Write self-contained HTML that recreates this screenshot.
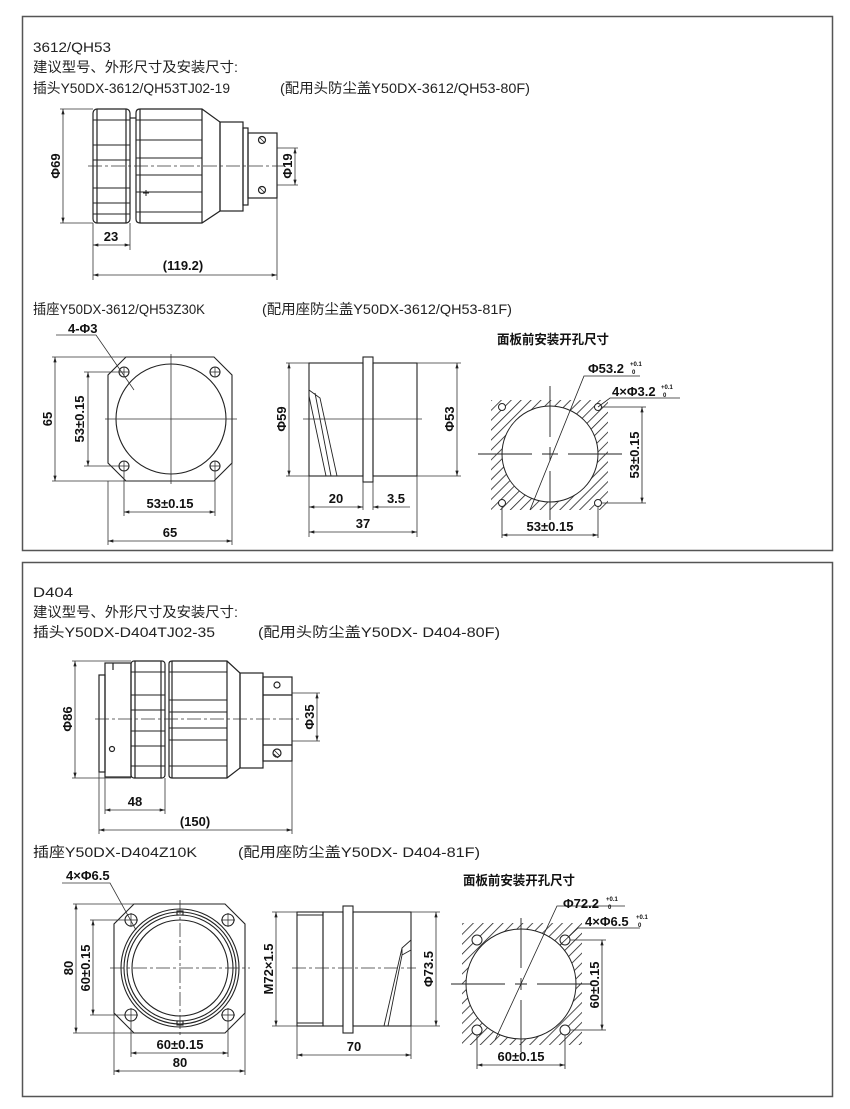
<!DOCTYPE html>
<html><head><meta charset="utf-8"><style>
html,body{margin:0;padding:0;background:#fff}
svg{display:block}
.t{font-family:"Liberation Sans","Noto Sans CJK SC",sans-serif;font-size:14px;fill:#222}
.d{font-family:"Liberation Sans","Noto Sans CJK SC",sans-serif;font-size:13px;font-weight:bold;fill:#111}
.s{font-family:"Liberation Sans",sans-serif;font-size:6px;font-weight:bold;fill:#111}
</style></head><body>
<svg width="850" height="1109" viewBox="0 0 850 1109" xmlns="http://www.w3.org/2000/svg">
<defs>
<marker id="a" viewBox="0 0 10 6" refX="10" refY="3" markerWidth="7" markerHeight="4" orient="auto-start-reverse"><path d="M0,0L10,3L0,6z" fill="#222"/></marker>
<pattern id="h" width="7" height="7" patternUnits="userSpaceOnUse" patternTransform="rotate(45)"><line x1="0" y1="0" x2="0" y2="7" stroke="#222" stroke-width="1.6"/></pattern>
</defs>
<g fill="none" stroke="#333">
<rect x="22.5" y="16.5" width="810" height="534" stroke="#555" stroke-width="1.5"/>
<rect x="22.5" y="562.5" width="810" height="534" stroke="#555" stroke-width="1.5"/>
</g>
<text class="t" x="33" y="52" textLength="78" lengthAdjust="spacingAndGlyphs">3612/QH53</text>
<text class="t" x="33" y="72" textLength="205" lengthAdjust="spacingAndGlyphs">建议型号、外形尺寸及安装尺寸:</text>
<text class="t" x="33" y="93" textLength="197" lengthAdjust="spacingAndGlyphs">插头Y50DX-3612/QH53TJ02-19</text>
<text class="t" x="280" y="93" textLength="250" lengthAdjust="spacingAndGlyphs">(配用头防尘盖Y50DX-3612/QH53-80F)</text>
<text class="t" x="33" y="314" textLength="172" lengthAdjust="spacingAndGlyphs">插座Y50DX-3612/QH53Z30K</text>
<text class="t" x="262" y="314" textLength="250" lengthAdjust="spacingAndGlyphs">(配用座防尘盖Y50DX-3612/QH53-81F)</text>
<text class="t" x="33" y="597" textLength="40" lengthAdjust="spacingAndGlyphs">D404</text>
<text class="t" x="33" y="617" textLength="205" lengthAdjust="spacingAndGlyphs">建议型号、外形尺寸及安装尺寸:</text>
<text class="t" x="33" y="637" textLength="182" lengthAdjust="spacingAndGlyphs">插头Y50DX-D404TJ02-35</text>
<text class="t" x="258" y="637" textLength="242" lengthAdjust="spacingAndGlyphs">(配用头防尘盖Y50DX- D404-80F)</text>
<text class="t" x="33" y="857" textLength="164" lengthAdjust="spacingAndGlyphs">插座Y50DX-D404Z10K</text>
<text class="t" x="238" y="857" textLength="242" lengthAdjust="spacingAndGlyphs">(配用座防尘盖Y50DX- D404-81F)</text>

<!-- ===== Plug 1 ===== -->
<g fill="none" stroke="#222" stroke-width="1.2">
<rect x="93" y="109" width="37" height="114" rx="4"/>
<line x1="97" y1="109" x2="97" y2="223"/><line x1="126" y1="109" x2="126" y2="223"/>
<path d="M93,120H130M93,145H130M93,160H130M93,188H130M93,203H130M93,214H130" stroke-width="0.9"/>
<path d="M136,113Q136,109 140,109H202L220,122V211L202,223H140Q136,223 136,219Z"/>
<line x1="140" y1="109" x2="140" y2="223"/><line x1="202" y1="109" x2="202" y2="223"/>
<path d="M136,120H202M136,140H202M136,158H202M136,175H202M136,192H202M136,212H202" stroke-width="0.9"/>
<line x1="130" y1="118" x2="136" y2="118"/>
<rect x="220" y="122" width="23" height="89"/>
<rect x="243" y="128" width="5" height="77"/>
<rect x="248" y="133" width="29" height="65"/>
<circle cx="262" cy="140" r="3.5"/><circle cx="262" cy="190" r="3.5"/>
<path d="M259,137l6,6M259,187l6,6" stroke-width="0.8"/>
<path d="M143,193h6M146,190v6" stroke-width="1"/>
</g>
<g stroke="#333" stroke-width="0.8" fill="none">
<line x1="88" y1="166" x2="285" y2="166" stroke-dasharray="14,3,3,3"/>
<line x1="60" y1="109" x2="93" y2="109"/><line x1="60" y1="223" x2="93" y2="223"/>
<line x1="63" y1="109" x2="63" y2="223" marker-start="url(#a)" marker-end="url(#a)"/>
<line x1="277" y1="148" x2="298" y2="148"/><line x1="277" y1="185" x2="298" y2="185"/>
<line x1="295" y1="148" x2="295" y2="185" marker-start="url(#a)" marker-end="url(#a)"/>
<line x1="93" y1="223" x2="93" y2="280"/><line x1="130" y1="223" x2="130" y2="250"/><line x1="277" y1="198" x2="277" y2="280"/>
<line x1="93" y1="245" x2="130" y2="245" marker-start="url(#a)" marker-end="url(#a)"/>
<line x1="93" y1="275" x2="277" y2="275" marker-start="url(#a)" marker-end="url(#a)"/>
</g>
<text class="d" transform="translate(60,166) rotate(-90)" text-anchor="middle">Φ69</text>
<text class="d" transform="translate(292,166) rotate(-90)" text-anchor="middle">Φ19</text>
<text class="d" x="111" y="241" text-anchor="middle">23</text>
<text class="d" x="183" y="270" text-anchor="middle">(119.2)</text>

<!-- ===== Socket 1 front ===== -->
<g fill="none" stroke="#222" stroke-width="1.1">
<path d="M126,357H214L232,375V463L214,481H126L108,463V375Z"/>
<circle cx="171" cy="419" r="55"/>
<circle cx="124" cy="372" r="5"/><circle cx="215" cy="372" r="5"/><circle cx="124" cy="466" r="5"/><circle cx="215" cy="466" r="5"/>
<path d="M119,372h10M124,367v10M210,372h10M215,367v10M119,466h10M124,461v10M210,466h10M215,461v10" stroke-width="0.7"/>
</g>
<g stroke="#333" stroke-width="0.8" fill="none">
<line x1="105" y1="419" x2="237" y2="419"/><line x1="171" y1="354" x2="171" y2="484"/>
<line x1="52" y1="357" x2="126" y2="357"/><line x1="52" y1="481" x2="126" y2="481"/>
<line x1="55" y1="357" x2="55" y2="481" marker-start="url(#a)" marker-end="url(#a)"/>
<line x1="84" y1="372" x2="120" y2="372"/><line x1="84" y1="466" x2="120" y2="466"/>
<line x1="88" y1="372" x2="88" y2="466" marker-start="url(#a)" marker-end="url(#a)"/>
<line x1="124" y1="470" x2="124" y2="516"/><line x1="215" y1="470" x2="215" y2="516"/>
<line x1="124" y1="512" x2="215" y2="512" marker-start="url(#a)" marker-end="url(#a)"/>
<line x1="108" y1="481" x2="108" y2="545"/><line x1="232" y1="463" x2="232" y2="545"/>
<line x1="108" y1="541" x2="232" y2="541" marker-start="url(#a)" marker-end="url(#a)"/>
<polyline points="56,335 96,335 134,390"/>
</g>
<text class="d" x="68" y="333">4-Φ3</text>
<text class="d" transform="translate(52,419) rotate(-90)" text-anchor="middle">65</text>
<text class="d" transform="translate(84,419) rotate(-90)" text-anchor="middle">53±0.15</text>
<text class="d" x="170" y="508" text-anchor="middle">53±0.15</text>
<text class="d" x="170" y="537" text-anchor="middle">65</text>

<!-- ===== Socket 1 side ===== -->
<g fill="none" stroke="#222" stroke-width="1.1">
<rect x="309" y="363" width="54" height="113"/>
<rect x="363" y="357" width="10" height="125"/>
<rect x="373" y="363" width="44" height="113"/>
<path d="M309,390L320,398L337,476M309,396L326,476M315,393L331,476" stroke-width="0.9"/>
</g>
<g stroke="#333" stroke-width="0.8" fill="none">
<line x1="303" y1="419" x2="422" y2="419"/>
<line x1="286" y1="363" x2="309" y2="363"/><line x1="286" y1="476" x2="309" y2="476"/>
<line x1="289" y1="363" x2="289" y2="476" marker-start="url(#a)" marker-end="url(#a)"/>
<line x1="417" y1="363" x2="461" y2="363"/><line x1="417" y1="476" x2="461" y2="476"/>
<line x1="457" y1="363" x2="457" y2="476" marker-start="url(#a)" marker-end="url(#a)"/>
<line x1="309" y1="476" x2="309" y2="537"/><line x1="363" y1="482" x2="363" y2="510"/><line x1="373" y1="482" x2="373" y2="510"/><line x1="417" y1="476" x2="417" y2="537"/>
<line x1="309" y1="507" x2="363" y2="507" marker-start="url(#a)" marker-end="url(#a)"/>
<line x1="388" y1="507" x2="373" y2="507" marker-end="url(#a)"/><line x1="388" y1="507" x2="410" y2="507"/>
<line x1="309" y1="532" x2="417" y2="532" marker-start="url(#a)" marker-end="url(#a)"/>
</g>
<text class="d" transform="translate(286,419) rotate(-90)" text-anchor="middle">Φ59</text>
<text class="d" transform="translate(454,419) rotate(-90)" text-anchor="middle">Φ53</text>
<text class="d" x="336" y="503" text-anchor="middle">20</text>
<text class="d" x="396" y="503" text-anchor="middle">3.5</text>
<text class="d" x="363" y="528" text-anchor="middle">37</text>

<!-- ===== Cutout 1 ===== -->
<text class="d" x="497" y="344" textLength="112" lengthAdjust="spacingAndGlyphs">面板前安装开孔尺寸</text>
<path d="M491,400H608V510H491Z M598,454A48,48 0 1,0 502,454A48,48 0 1,0 598,454Z" fill="url(#h)" fill-rule="evenodd"/>
<g fill="none" stroke="#222" stroke-width="1">
<circle cx="550" cy="454" r="48"/>
<circle cx="502" cy="407" r="3.5" fill="#fff"/><circle cx="598" cy="407" r="3.5" fill="#fff"/><circle cx="502" cy="503" r="3.5" fill="#fff"/><circle cx="598" cy="503" r="3.5" fill="#fff"/>
<path d="M478,454H532M542,454H558M568,454H622M550,386V437M550,447V461M550,471V520" stroke-width="0.9"/>
<polyline points="530,510 584,376 640,376" stroke-width="0.8"/>
<polyline points="598,407 610,398 680,398" stroke-width="0.8"/>
<line x1="602" y1="407" x2="646" y2="407" stroke-width="0.8"/><line x1="602" y1="503" x2="646" y2="503" stroke-width="0.8"/>
<line x1="642" y1="407" x2="642" y2="503" stroke-width="0.8" marker-start="url(#a)" marker-end="url(#a)"/>
<line x1="502" y1="507" x2="502" y2="538" stroke-width="0.8"/><line x1="598" y1="507" x2="598" y2="538" stroke-width="0.8"/>
<line x1="502" y1="535" x2="598" y2="535" stroke-width="0.8" marker-start="url(#a)" marker-end="url(#a)"/>
</g>
<text class="d" x="588" y="373">Φ53.2</text><text class="s" x="630" y="366">+0.1</text><text class="s" x="632" y="374">0</text>
<text class="d" x="612" y="396">4×Φ3.2</text><text class="s" x="661" y="389">+0.1</text><text class="s" x="663" y="397">0</text>
<text class="d" transform="translate(639,455) rotate(-90)" text-anchor="middle">53±0.15</text>
<text class="d" x="550" y="531" text-anchor="middle">53±0.15</text>

<!-- ===== Plug 2 ===== -->
<g fill="none" stroke="#222" stroke-width="1.2">
<rect x="99" y="675" width="6" height="97"/>
<rect x="105" y="663" width="26" height="114"/>
<line x1="113" y1="663" x2="113" y2="670"/>
<circle cx="112" cy="749" r="2.5"/>
<rect x="131" y="661" width="34" height="117" rx="3"/>
<line x1="135" y1="661" x2="135" y2="778"/><line x1="161" y1="661" x2="161" y2="778"/>
<path d="M131,672H165M131,695H165M131,710H165M131,731H165M131,746H165M131,766H165" stroke-width="0.9"/>
<path d="M169,664Q169,661 172,661H227L240,673V768L227,778H172Q169,778 169,775Z"/>
<line x1="172" y1="661" x2="172" y2="778"/><line x1="227" y1="661" x2="227" y2="778"/>
<path d="M169,672H227M169,700H227M169,712H227M169,728H227M169,740H227M169,766H227" stroke-width="0.9"/>
<rect x="240" y="673" width="23" height="95"/>
<rect x="263" y="677" width="29" height="84"/>
<line x1="263" y1="695" x2="292" y2="695"/><line x1="263" y1="745" x2="292" y2="745"/>
<circle cx="277" cy="685" r="3"/><circle cx="277" cy="753" r="4"/>
<path d="M274,750l6,6M274,754l4,4" stroke-width="0.8"/>
</g>
<g stroke="#333" stroke-width="0.8" fill="none">
<line x1="95" y1="719" x2="300" y2="719" stroke-dasharray="14,3,3,3"/>
<line x1="72" y1="661" x2="131" y2="661"/><line x1="72" y1="778" x2="131" y2="778"/>
<line x1="75" y1="661" x2="75" y2="778" marker-start="url(#a)" marker-end="url(#a)"/>
<line x1="292" y1="693" x2="320" y2="693"/><line x1="292" y1="741" x2="320" y2="741"/>
<line x1="317" y1="693" x2="317" y2="741" marker-start="url(#a)" marker-end="url(#a)"/>
<line x1="99" y1="772" x2="99" y2="834"/><line x1="105" y1="777" x2="105" y2="814"/><line x1="165" y1="778" x2="165" y2="814"/><line x1="292" y1="761" x2="292" y2="834"/>
<line x1="105" y1="810" x2="165" y2="810" marker-start="url(#a)" marker-end="url(#a)"/>
<line x1="99" y1="830" x2="292" y2="830" marker-start="url(#a)" marker-end="url(#a)"/>
</g>
<text class="d" transform="translate(72,719) rotate(-90)" text-anchor="middle">Φ86</text>
<text class="d" transform="translate(314,717) rotate(-90)" text-anchor="middle">Φ35</text>
<text class="d" x="135" y="806" text-anchor="middle">48</text>
<text class="d" x="195" y="826" text-anchor="middle">(150)</text>

<!-- ===== Socket 2 front ===== -->
<g fill="none" stroke="#222" stroke-width="1.1">
<path d="M134,904H225L245,924V1013L225,1033H134L114,1013V924Z"/>
<circle cx="180" cy="968" r="59"/><circle cx="180" cy="968" r="56"/><circle cx="180" cy="968" r="53"/><circle cx="180" cy="968" r="48"/>
<rect x="177" y="911" width="6" height="4"/><rect x="177" y="1021" width="6" height="4"/>
<circle cx="131" cy="920" r="6"/><circle cx="228" cy="920" r="6"/><circle cx="131" cy="1015" r="6"/><circle cx="228" cy="1015" r="6"/>
<path d="M124,920h14M131,913v14M221,920h14M228,913v14M124,1015h14M131,1008v14M221,1015h14M228,1008v14" stroke-width="0.7"/>
</g>
<g stroke="#333" stroke-width="0.8" fill="none">
<line x1="110" y1="968" x2="250" y2="968" stroke-dasharray="14,3,3,3"/><line x1="180" y1="900" x2="180" y2="1037" stroke-dasharray="14,3,3,3"/>
<line x1="73" y1="904" x2="134" y2="904"/><line x1="73" y1="1033" x2="134" y2="1033"/>
<line x1="76" y1="904" x2="76" y2="1033" marker-start="url(#a)" marker-end="url(#a)"/>
<line x1="90" y1="920" x2="125" y2="920"/><line x1="90" y1="1015" x2="125" y2="1015"/>
<line x1="93" y1="920" x2="93" y2="1015" marker-start="url(#a)" marker-end="url(#a)"/>
<line x1="131" y1="1021" x2="131" y2="1057"/><line x1="228" y1="1021" x2="228" y2="1057"/>
<line x1="131" y1="1053" x2="228" y2="1053" marker-start="url(#a)" marker-end="url(#a)"/>
<line x1="114" y1="1013" x2="114" y2="1075"/><line x1="245" y1="1013" x2="245" y2="1075"/>
<line x1="114" y1="1071" x2="245" y2="1071" marker-start="url(#a)" marker-end="url(#a)"/>
<polyline points="62,883 110,883 136,930"/>
</g>
<text class="d" x="66" y="880">4×Φ6.5</text>
<text class="d" transform="translate(73,968) rotate(-90)" text-anchor="middle">80</text>
<text class="d" transform="translate(90,968) rotate(-90)" text-anchor="middle">60±0.15</text>
<text class="d" x="180" y="1049" text-anchor="middle">60±0.15</text>
<text class="d" x="180" y="1067" text-anchor="middle">80</text>

<!-- ===== Socket 2 side ===== -->
<g fill="none" stroke="#222" stroke-width="1.1">
<rect x="297" y="912" width="26" height="114"/>
<line x1="297" y1="915" x2="323" y2="915"/><line x1="297" y1="1023" x2="323" y2="1023"/>
<rect x="323" y="912" width="20" height="114"/>
<rect x="343" y="906" width="10" height="127"/>
<rect x="353" y="912" width="58" height="114"/>
<path d="M411,940L402,948L384,1026M411,950L402,955L388,1026M402,948V955" stroke-width="0.9"/>
</g>
<g stroke="#333" stroke-width="0.8" fill="none">
<line x1="292" y1="968" x2="416" y2="968" stroke-dasharray="14,3,3,3"/>
<line x1="272" y1="912" x2="297" y2="912"/><line x1="272" y1="1026" x2="297" y2="1026"/>
<line x1="276" y1="912" x2="276" y2="1026" marker-start="url(#a)" marker-end="url(#a)"/>
<line x1="411" y1="912" x2="440" y2="912"/><line x1="411" y1="1026" x2="440" y2="1026"/>
<line x1="436" y1="912" x2="436" y2="1026" marker-start="url(#a)" marker-end="url(#a)"/>
<line x1="297" y1="1026" x2="297" y2="1059"/><line x1="411" y1="1026" x2="411" y2="1059"/>
<line x1="297" y1="1055" x2="411" y2="1055" marker-start="url(#a)" marker-end="url(#a)"/>
</g>
<text class="d" transform="translate(273,969) rotate(-90)" text-anchor="middle">M72×1.5</text>
<text class="d" transform="translate(433,969) rotate(-90)" text-anchor="middle">Φ73.5</text>
<text class="d" x="354" y="1051" text-anchor="middle">70</text>

<!-- ===== Cutout 2 ===== -->
<text class="d" x="463" y="885" textLength="112" lengthAdjust="spacingAndGlyphs">面板前安装开孔尺寸</text>
<path d="M462,923H582V1045H462Z M576,984A55,55 0 1,0 466,984A55,55 0 1,0 576,984Z" fill="url(#h)" fill-rule="evenodd"/>
<g fill="none" stroke="#222" stroke-width="1">
<circle cx="521" cy="984" r="55"/>
<circle cx="477" cy="940" r="5" fill="#fff"/><circle cx="565" cy="940" r="5" fill="#fff"/><circle cx="477" cy="1030" r="5" fill="#fff"/><circle cx="565" cy="1030" r="5" fill="#fff"/>
<path d="M451,984H505M515,984H527M537,984H592M521,918V968M521,978V990M521,1000V1052" stroke-width="0.9"/>
<polyline points="495,1040 557,906 625,906" stroke-width="0.8"/>
<polyline points="560,945 578,928 640,928" stroke-width="0.8"/>
<line x1="570" y1="940" x2="606" y2="940" stroke-width="0.8"/><line x1="570" y1="1030" x2="606" y2="1030" stroke-width="0.8"/>
<line x1="602" y1="940" x2="602" y2="1030" stroke-width="0.8" marker-start="url(#a)" marker-end="url(#a)"/>
<line x1="477" y1="1035" x2="477" y2="1069" stroke-width="0.8"/><line x1="565" y1="1035" x2="565" y2="1069" stroke-width="0.8"/>
<line x1="477" y1="1065" x2="565" y2="1065" stroke-width="0.8" marker-start="url(#a)" marker-end="url(#a)"/>
</g>
<text class="d" x="563" y="908">Φ72.2</text><text class="s" x="606" y="901">+0.1</text><text class="s" x="608" y="909">0</text>
<text class="d" x="585" y="926">4×Φ6.5</text><text class="s" x="636" y="919">+0.1</text><text class="s" x="638" y="927">0</text>
<text class="d" transform="translate(599,985) rotate(-90)" text-anchor="middle">60±0.15</text>
<text class="d" x="521" y="1061" text-anchor="middle">60±0.15</text>
</svg>
</body></html>
